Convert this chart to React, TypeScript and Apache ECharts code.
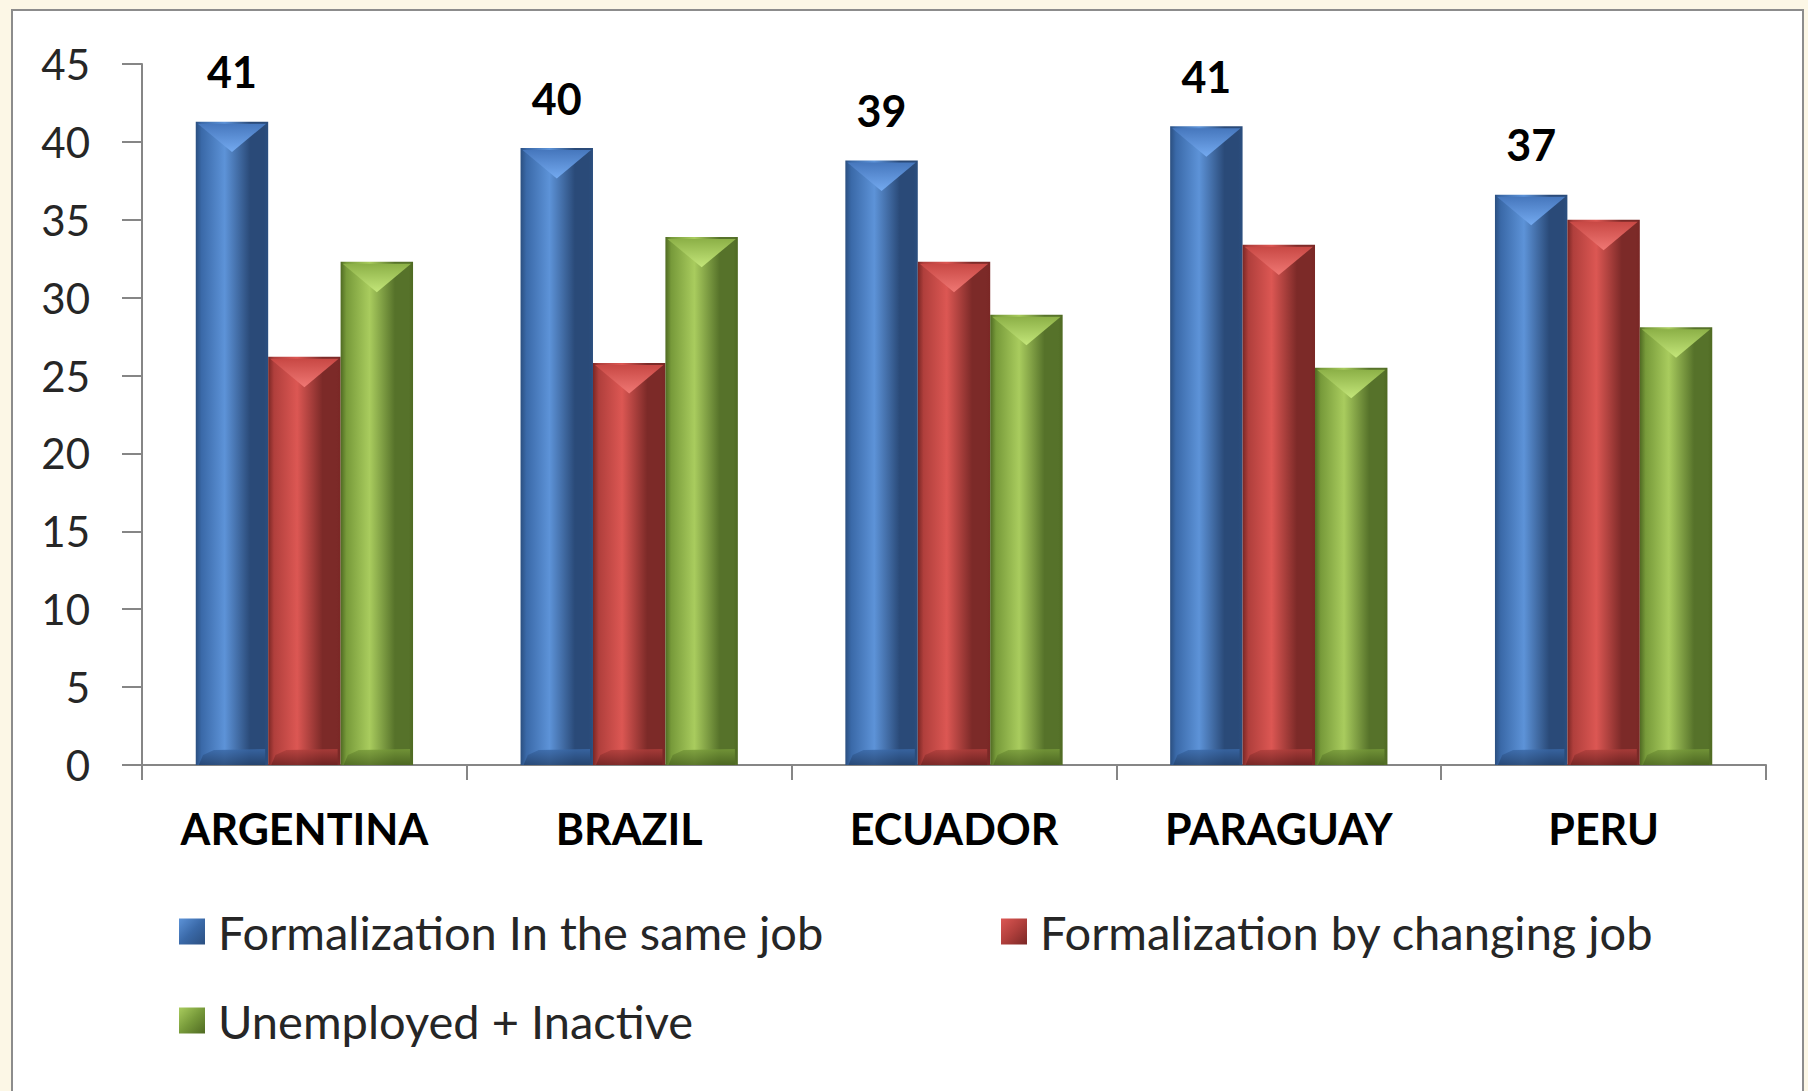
import React, { useEffect, useRef } from "react";
import * as echarts from "echarts";

const categories = ["ARGENTINA", "BRAZIL", "ECUADOR", "PARAGUAY", "PERU"];
const seriesNames = [
  "Formalization In the same job",
  "Formalization by changing job",
  "Unemployed + Inactive",
];
const sameJob = [41.3, 39.6, 38.8, 41.0, 36.6];
const changingJob = [26.2, 25.8, 32.3, 33.4, 35.0];
const unemployedInactive = [32.3, 33.9, 28.9, 25.5, 28.1];
const yMin = 0;
const yMax = 45;
const yInterval = 5;

type Pal = { edge: string; left: string; light: string; right: string; top: string; chev: string; bottom: string };
const palettes: Pal[] = [
  { edge: "#2b4f80", left: "#3a69a8", light: "#5d93d8", right: "#2a4a78", top: "#4677bd", chev: "#74aaf0", bottom: "#24426c" },
  { edge: "#7a2725", left: "#b03f3c", light: "#dc5753", right: "#7c2a28", top: "#c84844", chev: "#f07874", bottom: "#6a2120" },
  { edge: "#4f6a22", left: "#779a3a", light: "#a9cc5e", right: "#56722a", top: "#8cb047", chev: "#c4e67a", bottom: "#4a6420" },
];

const BAR_FRAC = 0.223;

function makeRender(idx: number) {
  const p = palettes[idx];
  return (params: any, api: any) => {
    const cat = api.value(0);
    const val = api.value(1);
    const band = api.size([1, 0])[0];
    const w = band * BAR_FRAC;
    const base = api.coord([cat, 0]);
    const topPt = api.coord([cat, val]);
    const x = base[0] - 1.5 * w + idx * w;
    const top = topPt[1];
    const by = base[1];
    const h = by - top;
    const cx = x + w / 2;
    const children: any[] = [
      {
        type: "rect",
        shape: { x, y: top, width: w, height: h },
        style: {
          fill: new echarts.graphic.LinearGradient(0, 0, 1, 0, [
            { offset: 0, color: p.edge },
            { offset: 0.08, color: p.left },
            { offset: 0.4, color: p.light },
            { offset: 0.75, color: p.right },
            { offset: 0.94, color: p.right },
            { offset: 1, color: p.edge },
          ]),
        },
      },
      {
        type: "polygon",
        shape: { points: [[x + 2, top + 2], [x + w - 2, top + 2], [cx, top + w * 0.42]] },
        style: {
          fill: new echarts.graphic.LinearGradient(0, 0, 0, 1, [
            { offset: 0, color: p.top },
            { offset: 1, color: p.chev },
          ]),
        },
      },
      {
        type: "polygon",
        shape: {
          points: [
            [x + 3, by],
            [x + w * 0.1, by - 10],
            [x + w * 0.25, by - 15],
            [x + w - 3, by - 16],
            [x + w - 3, by],
          ],
        },
        style: {
          fill: new echarts.graphic.LinearGradient(0, 0, 0, 1, [
            { offset: 0, color: p.left },
            { offset: 1, color: p.bottom },
          ]),
          opacity: 0.8,
        },
      },
    ];
    if (idx === 0) {
      children.push({
        type: "text",
        style: {
          text: String(Math.round(val)),
          x: cx,
          y: top - 50,
          align: "center",
          verticalAlign: "middle",
          fill: "#000",
          font: "bold 43px Lato",
        },
      });
    }
    return { type: "group", children };
  };
}

const legendGrad = (p: Pal) =>
  new echarts.graphic.LinearGradient(0, 0, 1, 1, [
    { offset: 0, color: p.light },
    { offset: 0.5, color: p.left },
    { offset: 1, color: p.edge },
  ]);

export default function App() {
  const ref = useRef<HTMLDivElement>(null);
  useEffect(() => {
    if (!ref.current) return;
    const chart = echarts.init(ref.current, undefined, { renderer: "svg" });
    const allData = [sameJob, changingJob, unemployedInactive];
    const legendPos = [
      { left: 179, top: 908 },
      { left: 1001, top: 908 },
      { left: 179, top: 997 },
    ];
    chart.setOption({
      animation: false,
      backgroundColor: "#fcf7e6",
      graphic: [
        {
          type: "rect",
          shape: { x: 12, y: 10, width: 1791, height: 1100 },
          style: { fill: "#ffffff", stroke: "#8c8c8c", lineWidth: 2 },
          z: -10,
        },
      ],
      grid: { left: 142, right: 42, top: 64, bottom: 326, containLabel: false },
      xAxis: {
        type: "category",
        data: categories,
        axisLine: { lineStyle: { color: "#868686", width: 2 } },
        axisTick: { show: true, length: 15, lineStyle: { color: "#868686", width: 2 } },
        axisLabel: {
          margin: 42,
          color: "#000",
          fontFamily: "Lato",
          fontWeight: "bold",
          fontSize: 43,
        },
      },
      yAxis: {
        type: "value",
        min: yMin,
        max: yMax,
        interval: yInterval,
        splitLine: { show: false },
        axisLine: { show: true, lineStyle: { color: "#868686", width: 2 } },
        axisTick: { show: true, length: 20, lineStyle: { color: "#868686", width: 2 } },
        axisLabel: { margin: 52, color: "#262626", fontFamily: "Lato", fontSize: 42 },
      },
      legend: seriesNames.map((n, i) => ({
        data: [{ name: n, itemStyle: { color: legendGrad(palettes[i]) } }],
        left: legendPos[i].left,
        top: legendPos[i].top,
        padding: 0,
        icon: "rect",
        itemWidth: 26,
        itemHeight: 26,
        textStyle: {
          fontFamily: "Lato",
          fontSize: 47,
          color: "#262626",
          padding: [0, 0, 0, 8],
        },
      })),
      series: seriesNames.map((n, i) => ({
        type: "custom",
        name: n,
        itemStyle: { color: palettes[i].light },
        renderItem: makeRender(i),
        encode: { x: 0, y: 1 },
        data: allData[i].map((v, j) => [j, v]),
      })),
    });
    return () => chart.dispose();
  }, []);
  return <div ref={ref} style={{ position: "fixed", left: 0, top: 0, width: 1808, height: 1091 }} />;
}
